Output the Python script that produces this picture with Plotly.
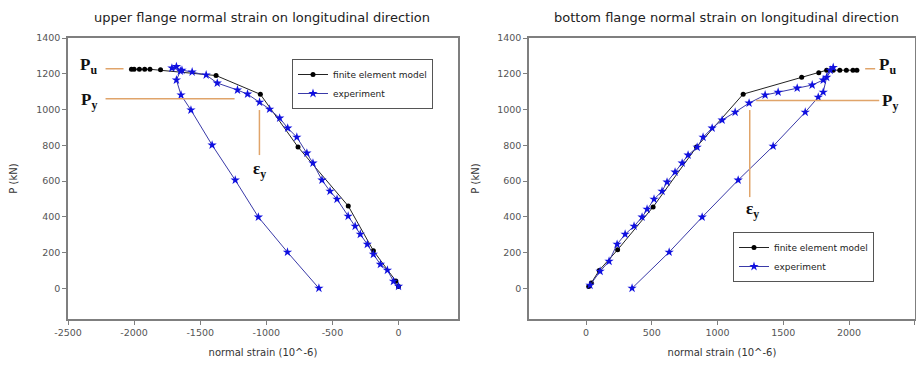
import plotly.graph_objects as go

# ---------------- data ----------------
# upper flange (left panel)
up_fem_x = [0, -20, -190, -380, -760, -1045, -1380, -1800, -1880, -1920, -1960, -2000, -2020]
up_fem_y = [10, 40, 210, 460, 790, 1085, 1190, 1222, 1225, 1225, 1225, 1225, 1225]

up_exp_x = [0, -38, -84, -137, -190, -236, -289, -328, -381, -465, -518, -579, -647, -693, -769,
            -838, -899, -975, -1051, -1142, -1218, -1371, -1455, -1561, -1638, -1714, -1680, -1650,
            -1680, -1645, -1570, -1410, -1235, -1060, -840, -602]
up_exp_y = [11, 39, 101, 134, 190, 246, 302, 347, 403, 498, 543, 605, 700, 756, 845,
            896, 952, 1002, 1041, 1086, 1109, 1148, 1193, 1210, 1220, 1232, 1240, 1215,
            1165, 1081, 997, 801, 605, 398, 202, 0]

# bottom flange (right panel)
bt_fem_x = [20, 40, 100, 240, 510, 840, 1195, 1640, 1770, 1830, 1880, 1930, 1980, 2030, 2060]
bt_fem_y = [10, 30, 100, 215, 455, 790, 1086, 1181, 1205, 1220, 1220, 1220, 1220, 1220, 1220]

bt_exp_x = [30, 107, 175, 236, 297, 365, 426, 464, 517, 578, 616, 677, 731, 776, 845, 890, 959,
            1035, 1134, 1240, 1362, 1461, 1606, 1720, 1804, 1857, 1880, 1830, 1804, 1766, 1667,
            1423, 1157, 883, 632, 350]
bt_exp_y = [17, 95, 151, 246, 302, 347, 398, 442, 498, 543, 594, 650, 700, 745, 789, 845, 896,
            941, 985, 1036, 1081, 1097, 1120, 1137, 1165, 1220, 1235, 1180, 1097, 1069, 985,
            795, 605, 398, 202, 0]

# reference levels
P_u = 1228
P_y = 1060
up_eps_y = -1052
bt_eps_y = 1245

# tick labels
up_xtick_vals = [-2500, -2000, -1500, -1000, -500, 0]
up_xtick_text = ["-2500", "-2000", "-1500", "-1000", "-500", "0"]
bt_xtick_vals = [0, 500, 1000, 1500, 2000, 2500]
bt_xtick_text = ["0", "500", "1000", "1500", "2000", "2500"]
ytick_vals = [0, 200, 400, 600, 800, 1000, 1200, 1400]

titles = ["upper flange normal strain on longitudinal direction",
          "bottom flange normal strain on longitudinal direction"]
names = ["finite element model", "experiment"]

# ---------------- figure ----------------
OFF = 8                      # page body margin of the html page
W, H = 924 - 2 * OFF, 367 - 2 * OFF


def fx(px):
    return (px - OFF) / W


def fy(py):
    return 1 - (py - OFF) / H


fig = go.Figure()

fem_style = dict(mode="lines+markers", line=dict(color="#222222", width=1),
                 marker=dict(color="black", size=5, symbol="circle"))
exp_style = dict(mode="lines+markers", line=dict(color="#3a3aa8", width=1),
                 marker=dict(color="#1010e0", size=7, symbol="star"))

fig.add_trace(go.Scatter(x=up_fem_x, y=up_fem_y, name=names[0], xaxis="x", yaxis="y",
                         legend="legend", **fem_style))
fig.add_trace(go.Scatter(x=up_exp_x, y=up_exp_y, name=names[1], xaxis="x", yaxis="y",
                         legend="legend", **exp_style))
fig.add_trace(go.Scatter(x=bt_fem_x, y=bt_fem_y, name=names[0], xaxis="x2", yaxis="y2",
                         legend="legend2", **fem_style))
fig.add_trace(go.Scatter(x=bt_exp_x, y=bt_exp_y, name=names[1], xaxis="x2", yaxis="y2",
                         legend="legend2", **exp_style))

SANS = "DejaVu Sans"
ydom = [fy(319), fy(38)]
axis_common = dict(showline=True, linecolor="#7f7f7f", linewidth=1.5, mirror=True,
                   ticks="outside", ticklen=4, tickcolor="#7f7f7f", automargin=False,
                   tickfont=dict(family=SANS, size=9.5, color="#555555"),
                   showgrid=False, zeroline=False)
title_font = dict(family=SANS, size=10, color="#333333")
legend_font = dict(family=SANS, size=9, color="#222222")

fig.update_layout(
    template="none",
    width=W, height=H,
    margin=dict(l=0, r=0, t=0, b=0, pad=0),
    paper_bgcolor="white", plot_bgcolor="white",
    xaxis=dict(domain=[fx(68), fx(458)], range=[-2500, 450],
               tickmode="array", tickvals=up_xtick_vals, ticktext=up_xtick_text,
               title=dict(text="normal strain (10^-6)", font=title_font, standoff=12),
               anchor="y", **axis_common),
    yaxis=dict(domain=ydom, range=[-172, 1400], tickmode="array", tickvals=ytick_vals,
               title=dict(text="P (kN)", font=title_font, standoff=19),
               anchor="x", **axis_common),
    xaxis2=dict(domain=[fx(529), fx(915)], range=[-434, 2502],
                tickmode="array", tickvals=bt_xtick_vals, ticktext=bt_xtick_text,
                title=dict(text="normal strain (10^-6)", font=title_font, standoff=12),
                anchor="y2", **axis_common),
    yaxis2=dict(domain=ydom, range=[-172, 1400], tickmode="array", tickvals=ytick_vals,
                title=dict(text="P (kN)", font=title_font, standoff=16),
                anchor="x2", **axis_common),
    legend=dict(x=fx(292), y=fy(59), xanchor="left", yanchor="top",
                bordercolor="#555555", borderwidth=1, bgcolor="white",
                font=legend_font, itemwidth=30, tracegroupgap=0),
    legend2=dict(x=fx(733), y=fy(232), xanchor="left", yanchor="top",
                 bordercolor="#555555", borderwidth=1, bgcolor="white",
                 font=legend_font, itemwidth=30, tracegroupgap=0),
    showlegend=True,
)

# chart titles
for cx, t in zip([262, 726], titles):
    fig.add_annotation(x=fx(cx), y=fy(18), xref="paper", yref="paper", text=t,
                       xanchor="center", yanchor="middle", showarrow=False,
                       font=dict(family=SANS, size=13, color="#222222"))

orange = "#e0a46a"
serif = dict(family="Liberation Serif, Times New Roman", size=17, color="#111111")

# left panel reference lines
fig.add_shape(type="line", xref="x", yref="y", x0=-2216, x1=-2080, y0=P_u, y1=P_u,
              line=dict(color=orange, width=1.5))
fig.add_shape(type="line", xref="x", yref="y", x0=-2216, x1=-1240, y0=P_y, y1=P_y,
              line=dict(color=orange, width=1.5))
fig.add_shape(type="line", xref="x", yref="y", x0=up_eps_y, x1=up_eps_y, y0=745, y1=997,
              line=dict(color=orange, width=1.5))
fig.add_annotation(x=-2265, y=P_u + 15, xref="x", yref="y", text="<b>P<sub>u</sub></b>",
                   showarrow=False, xanchor="right", font=serif)
fig.add_annotation(x=-2265, y=P_y - 10, xref="x", yref="y", text="<b>P<sub>y</sub></b>",
                   showarrow=False, xanchor="right", font=serif)
fig.add_annotation(x=up_eps_y, y=660, xref="x", yref="y", text="<b>ε<sub>y</sub></b>",
                   showarrow=False, font=serif)

# right panel reference lines
fig.add_shape(type="line", xref="x2", yref="y2", x0=2123, x1=2199, y0=P_u, y1=P_u,
              line=dict(color=orange, width=1.5))
fig.add_shape(type="line", xref="x2", yref="y2", x0=1294, x1=2230, y0=P_y - 10, y1=P_y - 10,
              line=dict(color=orange, width=1.5))
fig.add_shape(type="line", xref="x2", yref="y2", x0=bt_eps_y, x1=bt_eps_y, y0=510, y1=997,
              line=dict(color=orange, width=1.5))
fig.add_annotation(x=2215, y=P_u + 15, xref="x2", yref="y2", text="<b>P<sub>u</sub></b>",
                   showarrow=False, xanchor="left", font=serif)
fig.add_annotation(x=2235, y=P_y - 20, xref="x2", yref="y2", text="<b>P<sub>y</sub></b>",
                   showarrow=False, xanchor="left", font=serif)
fig.add_annotation(x=bt_eps_y + 20, y=440, xref="x2", yref="y2", text="<b>ε<sub>y</sub></b>",
                   showarrow=False, font=serif)

fig.write_html("out.html")
